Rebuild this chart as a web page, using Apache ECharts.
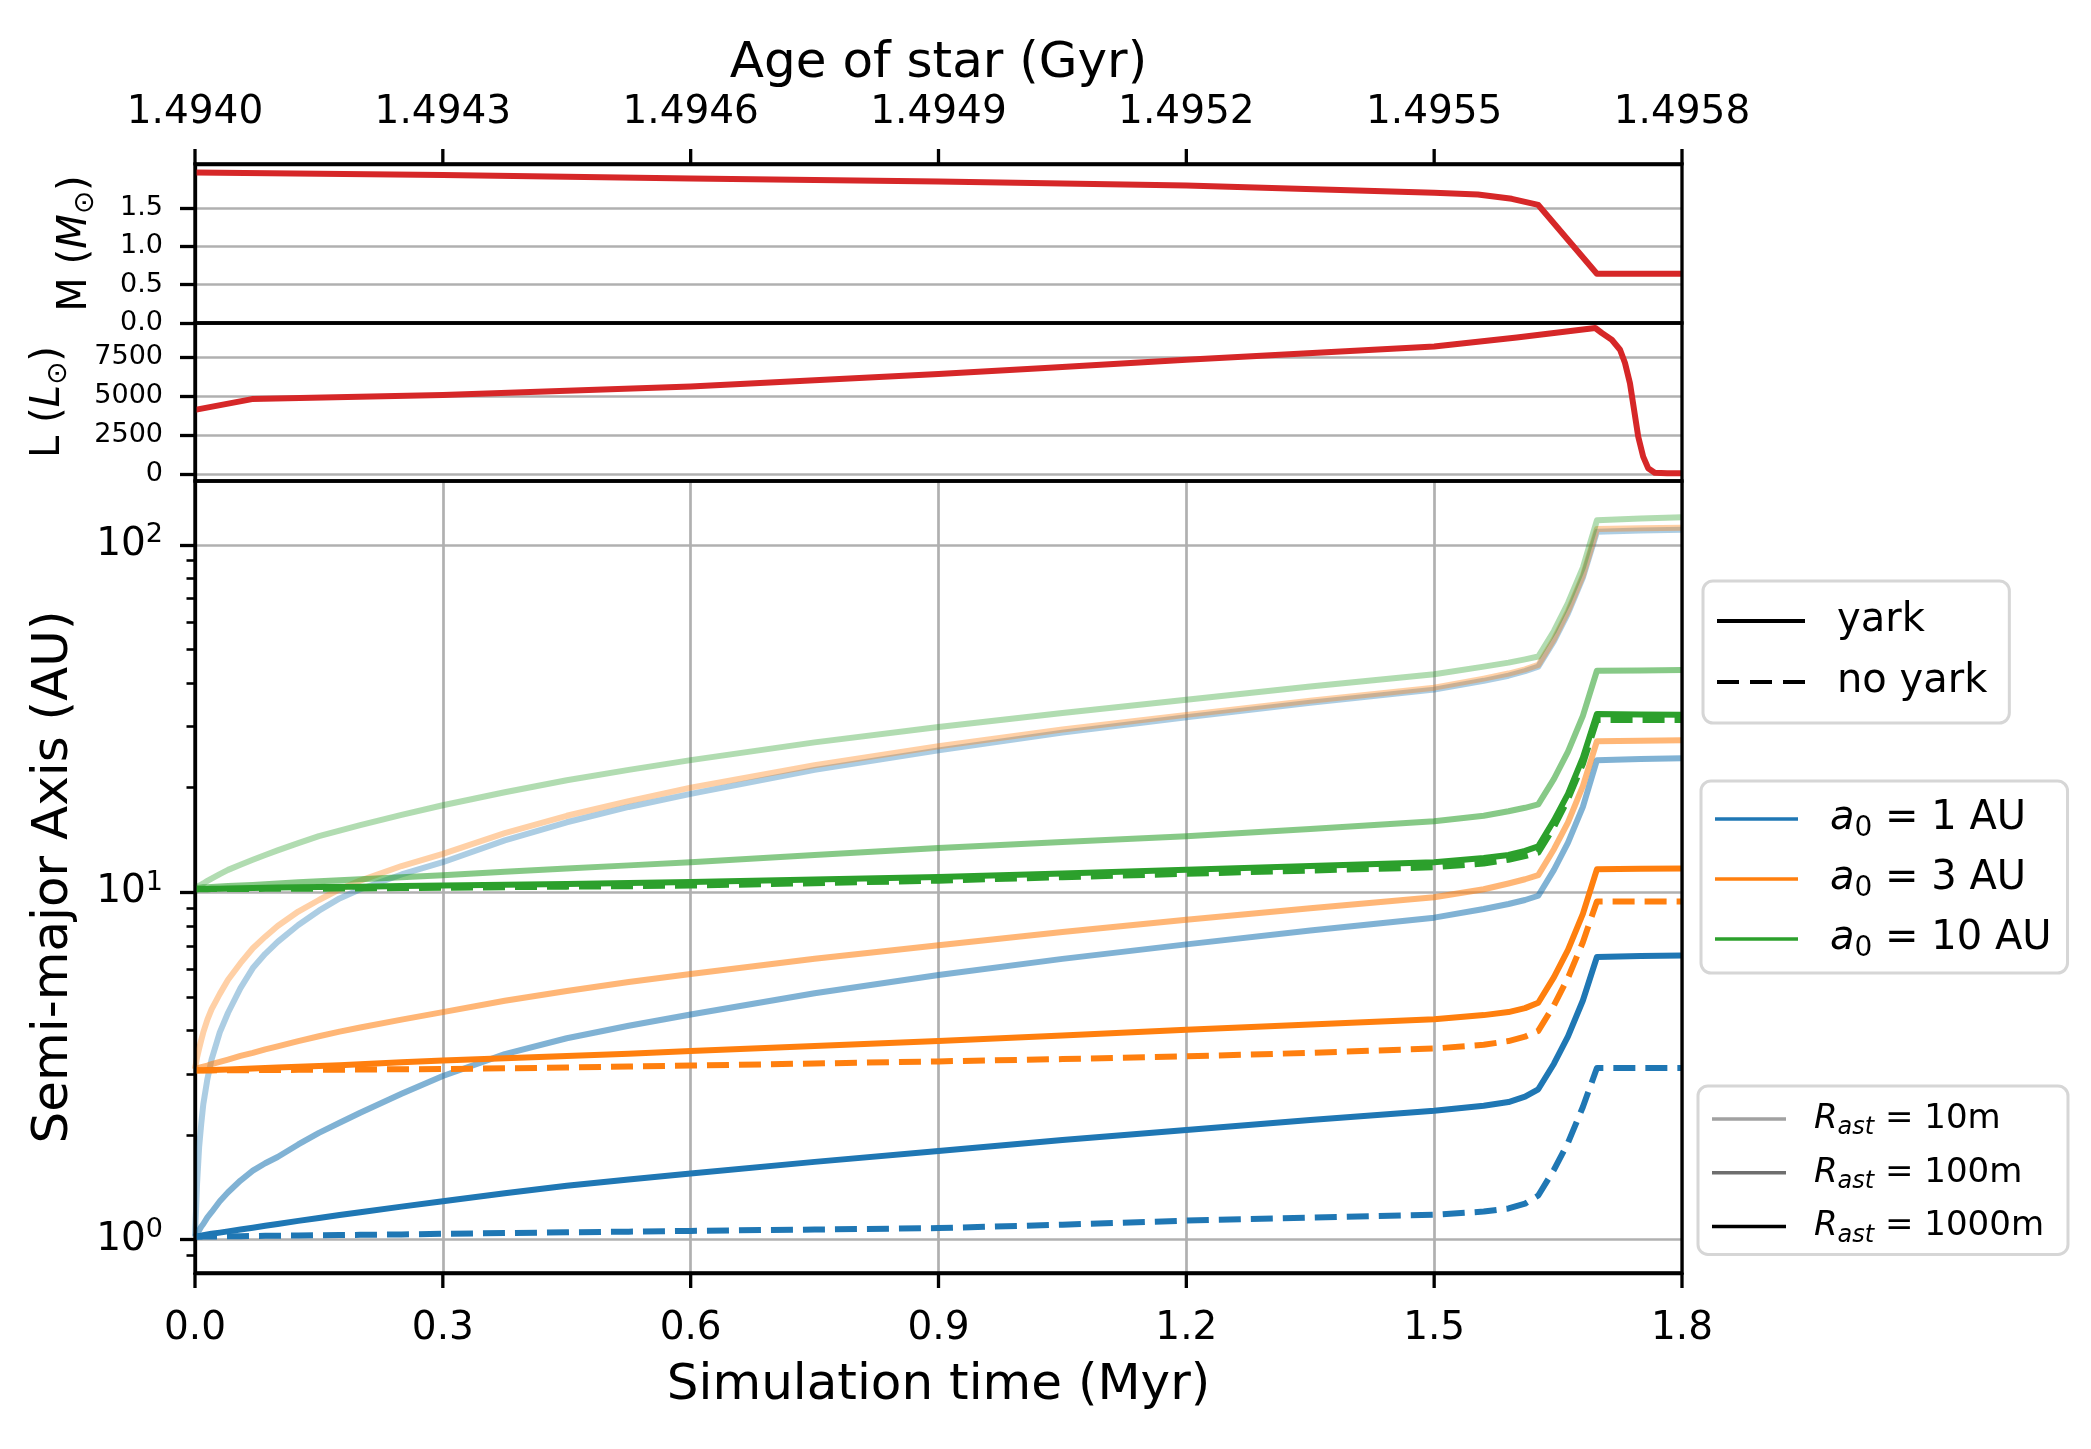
<!DOCTYPE html>
<html>
<head>
<meta charset="utf-8" />
<title>Semi-major axis evolution</title>
<script src="https://cdn.jsdelivr.net/npm/echarts@6.0.0/dist/echarts.min.js"></script>
<style>
  html, body { margin: 0; padding: 0; background: #fff; }
  #main { width: 2091px; height: 1449px; }
</style>
</head>
<body>
<div id="main"></div>
<script>
var FONT = 'DejaVu Sans';

// tick positions and labels
var TIME_TICKS = [0, 0.3, 0.6, 0.9, 1.2, 1.5, 1.8];
var TIME_LABELS = ['0.0', '0.3', '0.6', '0.9', '1.2', '1.5', '1.8'];
var AGE_LABELS = ['1.4940', '1.4943', '1.4946', '1.4949', '1.4952', '1.4955', '1.4958'];
var MASS_TICKS = [0, 0.5, 1.0, 1.5];
var LUM_TICKS = [0, 2500, 5000, 7500];
var A_TICKS = [1, 10, 100];
var A_MINOR = [0.9, 2, 3, 4, 5, 6, 7, 8, 9, 20, 30, 40, 50, 60, 70, 80, 90];

// star mass (Msun)
var M_T   = [0, 0.3, 0.6, 0.9, 1.2, 1.5, 1.553, 1.594, 1.626, 1.697, 1.8];
var M_VAL = [1.964, 1.932, 1.885, 1.847, 1.795, 1.70, 1.675, 1.62, 1.54, 0.643, 0.643];

// star luminosity (Lsun)
var L_T   = [0, 0.069, 0.3, 0.6, 0.9, 1.029, 1.2, 1.5, 1.6, 1.695, 1.703, 1.715, 1.725, 1.731, 1.737, 1.742, 1.747, 1.753, 1.759, 1.767, 1.782, 1.8];
var L_VAL = [4120, 4810, 5080, 5620, 6420, 6800, 7330, 8180, 8750, 9360, 9040, 8610, 7970, 7120, 5830, 4120, 2410, 1130, 390, 100, 65, 60];

// semi-major axis (AU) at simulation times T (Myr)
var T = [0, 0.0025, 0.005, 0.0075, 0.01, 0.015, 0.02, 0.03, 0.04, 0.055, 0.07, 0.085, 0.1, 0.125, 0.15, 0.175, 0.2, 0.25, 0.3,
         0.375, 0.45, 0.525, 0.6, 0.75, 0.9, 1.05, 1.2, 1.35, 1.5, 1.56, 1.59, 1.61, 1.626, 1.645, 1.662, 1.68, 1.697, 1.75, 1.8];

var A1_R10    = [1.02, 1.45, 1.85, 2.15, 2.45, 2.9, 3.3, 3.95, 4.5, 5.3, 6.05, 6.65, 7.2, 8.05, 8.85, 9.6, 10.2, 11.25, 12.2,
                 14.1, 15.9, 17.6, 19.2, 22.5, 25.6, 28.8, 31.9, 35.1, 38.3, 40.6, 42.0, 43.3, 44.6, 52.8, 63.5, 80.5, 109, 110, 110.5];
var A1_R100   = [1.02, 1.04, 1.065, 1.09, 1.11, 1.16, 1.2, 1.29, 1.37, 1.48, 1.58, 1.66, 1.73, 1.88, 2.03, 2.17, 2.32, 2.63, 2.96,
                 3.42, 3.8, 4.13, 4.45, 5.12, 5.78, 6.43, 7.08, 7.76, 8.45, 8.95, 9.25, 9.5, 9.77, 11.6, 13.9, 17.6, 24.0, 24.2, 24.3];
var A1_R1000  = [1.02, 1.022, 1.025, 1.027, 1.03, 1.035, 1.04, 1.048, 1.057, 1.07, 1.083, 1.097, 1.11, 1.133, 1.155, 1.178, 1.2, 1.245, 1.29,
                 1.36, 1.43, 1.49, 1.55, 1.675, 1.80, 1.935, 2.07, 2.21, 2.35, 2.43, 2.49, 2.58, 2.71, 3.21, 3.85, 4.88, 6.51, 6.55, 6.58];
var A1_NOYARK = [1.02, 1.02, 1.02, 1.02, 1.021, 1.021, 1.022, 1.022, 1.023, 1.024, 1.025, 1.026, 1.027, 1.028, 1.03, 1.031, 1.033, 1.036, 1.04,
                 1.045, 1.05, 1.055, 1.06, 1.07, 1.08, 1.105, 1.135, 1.157, 1.18, 1.205, 1.23, 1.27, 1.34, 1.59, 1.9, 2.41, 3.12, 3.12, 3.12];

var A3_R10    = [3.1, 3.35, 3.55, 3.75, 3.95, 4.3, 4.6, 5.1, 5.6, 6.25, 6.9, 7.45, 8.0, 8.8, 9.5, 10.2, 10.8, 11.9, 12.9,
                 14.8, 16.6, 18.3, 20.0, 23.2, 26.3, 29.4, 32.4, 35.6, 38.8, 41.2, 42.6, 43.8, 45.1, 53.5, 64.5, 81.5, 111, 111.5, 112];
var A3_R100   = [3.1, 3.11, 3.125, 3.14, 3.15, 3.17, 3.2, 3.25, 3.3, 3.38, 3.45, 3.53, 3.6, 3.73, 3.85, 3.97, 4.08, 4.3, 4.52,
                 4.87, 5.2, 5.52, 5.82, 6.44, 7.04, 7.68, 8.33, 9.0, 9.67, 10.2, 10.6, 10.9, 11.2, 13.3, 15.9, 20.2, 27.2, 27.3, 27.4];
var A3_R1000  = [3.07, 3.072, 3.073, 3.074, 3.075, 3.078, 3.08, 3.085, 3.09, 3.1, 3.11, 3.12, 3.13, 3.145, 3.16, 3.18, 3.2, 3.24, 3.28,
                 3.33, 3.38, 3.43, 3.49, 3.61, 3.73, 3.87, 4.02, 4.16, 4.31, 4.43, 4.52, 4.64, 4.81, 5.7, 6.83, 8.66, 11.64, 11.68, 11.7];
var A3_NOYARK = [3.07, 3.07, 3.07, 3.07, 3.07, 3.071, 3.071, 3.072, 3.073, 3.075, 3.076, 3.078, 3.079, 3.082, 3.084, 3.086, 3.089, 3.094, 3.1,
                 3.115, 3.13, 3.15, 3.17, 3.215, 3.26, 3.31, 3.37, 3.45, 3.55, 3.64, 3.73, 3.84, 3.99, 4.73, 5.67, 7.18, 9.41, 9.41, 9.41];

var A10_R10    = [10.3, 10.38, 10.45, 10.52, 10.6, 10.78, 10.95, 11.28, 11.6, 12.0, 12.4, 12.8, 13.2, 13.85, 14.5, 15.05, 15.6, 16.7, 17.8,
                  19.4, 21.0, 22.5, 24.0, 27.0, 29.9, 32.8, 35.8, 39.1, 42.4, 44.6, 45.8, 46.8, 47.7, 56.5, 68, 86, 117.6, 119, 120];
var A10_R100   = [10.3, 10.3, 10.31, 10.32, 10.33, 10.34, 10.36, 10.39, 10.42, 10.46, 10.5, 10.55, 10.6, 10.68, 10.75, 10.83, 10.9, 11.05, 11.2,
                  11.45, 11.7, 11.95, 12.2, 12.8, 13.4, 13.95, 14.5, 15.2, 16.0, 16.6, 17.1, 17.5, 17.9, 21.2, 25.4, 32.2, 43.4, 43.5, 43.6];
var A10_R1000  = [10.2, 10.2, 10.21, 10.21, 10.22, 10.22, 10.23, 10.24, 10.26, 10.27, 10.29, 10.3, 10.32, 10.34, 10.36, 10.37, 10.38, 10.42, 10.45,
                  10.51, 10.57, 10.63, 10.7, 10.88, 11.07, 11.33, 11.6, 11.9, 12.2, 12.55, 12.8, 13.15, 13.55, 16.1, 19.2, 24.4, 32.6, 32.5, 32.4];
var A10_NOYARK = [10.2, 10.2, 10.2, 10.2, 10.2, 10.2, 10.21, 10.21, 10.21, 10.22, 10.22, 10.23, 10.23, 10.24, 10.24, 10.25, 10.26, 10.28, 10.3,
                  10.34, 10.38, 10.41, 10.45, 10.62, 10.8, 11.05, 11.3, 11.55, 11.8, 12.1, 12.4, 12.7, 13.0, 15.4, 18.5, 23.4, 31.3, 31.3, 31.3];

var BLUE = '#1f77b4', ORANGE = '#ff7f0e', GREEN = '#2ca02c', RED = '#d62728';
var GRID_COLOR = '#b0b0b0';
var LW = 6;

// panel layout (px)
var PLOT_LEFT = 195, PLOT_W = 1487;
var M_TOP = 164, L_TOP = 323, A_TOP = 481, A_BOTTOM = 1273;
var TICK_LEN = 15;

function zip(xs, ys) {
  return xs.map(function (x, i) { return [x, ys[i]]; });
}
function logPts(vals) {
  return T.map(function (t, i) { return [t, Math.log10(vals[i])]; });
}
function timeIndex(v) { return Math.round(v / 0.3); }
// vertical segments spanning a tick strip, one per tick value, broken by nulls
function tickSegments(ticks) {
  var out = [];
  ticks.forEach(function (v) { out.push([v, 0], [v, 1], [v, null]); });
  return out;
}

var curves = [
  { vals: A1_R10, color: BLUE, alpha: 0.37 },
  { vals: A1_R100, color: BLUE, alpha: 0.57 },
  { vals: A1_R1000, color: BLUE, alpha: 1 },
  { vals: A1_NOYARK, color: BLUE, alpha: 1, dash: true },
  { vals: A3_R10, color: ORANGE, alpha: 0.37 },
  { vals: A3_R100, color: ORANGE, alpha: 0.57 },
  { vals: A3_R1000, color: ORANGE, alpha: 1 },
  { vals: A3_NOYARK, color: ORANGE, alpha: 1, dash: true },
  { vals: A10_R10, color: GREEN, alpha: 0.37 },
  { vals: A10_R100, color: GREEN, alpha: 0.57 },
  { vals: A10_R1000, color: GREEN, alpha: 1 },
  { vals: A10_NOYARK, color: GREEN, alpha: 1, dash: true }
];

var series = [];
series.push({
  type: 'line', xAxisIndex: 0, yAxisIndex: 0, data: zip(M_T, M_VAL),
  symbol: 'none', silent: true,
  lineStyle: { color: RED, width: LW, join: 'round' }
});
series.push({
  type: 'line', xAxisIndex: 1, yAxisIndex: 1, data: zip(L_T, L_VAL),
  symbol: 'none', silent: true,
  lineStyle: { color: RED, width: LW, join: 'round' }
});
curves.forEach(function (c, k) {
  series.push({
    name: 'curve' + k,
    type: 'line', xAxisIndex: 2, yAxisIndex: 2, data: logPts(c.vals),
    symbol: 'none', silent: true,
    lineStyle: { color: c.color, opacity: c.alpha, width: LW, join: 'round',
                 type: c.dash ? [22, 10] : 'solid' }
  });
});
// x tick marks drawn in the two strips (above the mass panel, below the main panel)
[3, 4].forEach(function (idx) {
  series.push({
    type: 'line', xAxisIndex: idx, yAxisIndex: idx + 1, data: tickSegments(TIME_TICKS),
    symbol: 'none', silent: true, clip: false, connectNulls: false, z: 20,
    lineStyle: { color: '#000', width: 3.3, cap: 'butt' }
  });
});

// legend-only entries
var LEGEND_COLORS = {
  'yark': '#000', 'no yark': '#000',
  'a1': BLUE, 'a3': ORANGE, 'a10': GREEN,
  'r10': '#a1a1a1', 'r100': '#6e6e6e', 'r1000': '#000'
};
Object.keys(LEGEND_COLORS).forEach(function (n) {
  series.push({
    name: n, type: 'line', xAxisIndex: 2, yAxisIndex: 2, data: [],
    symbol: 'none', itemStyle: { color: LEGEND_COLORS[n] },
    lineStyle: { color: LEGEND_COLORS[n] }
  });
});

var LEGEND_TEXT = {
  'yark': '{g| }{n|yark}',
  'no yark': '{g| }{n|no yark}',
  'a1': '{g| }{i|a}{s|0}{n| = 1 AU}',
  'a3': '{g| }{i|a}{s|0}{n| = 3 AU}',
  'a10': '{g| }{i|a}{s|0}{n| = 10 AU}',
  'r10': '{g| }{i|R}{s|ast}{n| = 10m}',
  'r100': '{g| }{i|R}{s|ast}{n| = 100m}',
  'r1000': '{g| }{i|R}{s|ast}{n| = 1000m}'
};
function legendFmt(name) { return LEGEND_TEXT[name]; }

function richBig(gap) {
  return {
    g: { width: gap, fontSize: 40, lineHeight: 48, fontFamily: FONT },
    n: { fontSize: 40, lineHeight: 48, fontFamily: FONT, color: '#000' },
    i: { fontSize: 40, lineHeight: 48, fontFamily: FONT, fontStyle: 'italic', color: '#000' },
    s: { fontSize: 28, lineHeight: 26, fontFamily: FONT, verticalAlign: 'bottom', color: '#000' }
  };
}
var RICH_SMALL = {
  g: { width: 23, fontSize: 34, lineHeight: 42, fontFamily: FONT },
  n: { fontSize: 34, lineHeight: 42, fontFamily: FONT, color: '#000' },
  i: { fontSize: 34, lineHeight: 42, fontFamily: FONT, fontStyle: 'italic', color: '#000' },
  s: { fontSize: 24, lineHeight: 24, fontFamily: FONT, fontStyle: 'italic', verticalAlign: 'bottom', color: '#000' }
};

var legendBase = {
  orient: 'vertical', selectedMode: false, backgroundColor: '#fff',
  borderColor: '#d6d6d6', borderWidth: 3, borderRadius: 10,
  itemStyle: { borderWidth: 0 }, formatter: legendFmt
};

var NAME_RICH = {
  n: { fontSize: 40, lineHeight: 48, fontFamily: FONT, color: '#000' },
  i: { fontSize: 40, lineHeight: 48, fontFamily: FONT, fontStyle: 'italic', color: '#000' },
  s: { fontSize: 28, lineHeight: 26, fontFamily: FONT, verticalAlign: 'bottom', color: '#000' }
};

var tickStyle = { color: '#000', width: 3.3 };
var labelBase = { fontFamily: FONT, color: '#000' };
function spine() { return { show: true, onZero: false, lineStyle: { color: '#000', width: 3.3 } }; }
var gridBase = { left: PLOT_LEFT, width: PLOT_W, show: true, z: 10, backgroundColor: 'transparent',
                 borderColor: '#000', borderWidth: 3.3, outerBoundsMode: 'none', containLabel: false };
var stripBase = { left: PLOT_LEFT, width: PLOT_W, height: TICK_LEN, show: false, outerBoundsMode: 'none', containLabel: false };

function stripX(gridIndex) {
  return { gridIndex: gridIndex, type: 'value', min: 0, max: 1.8, show: false,
           axisLine: { show: false, onZero: false }, splitLine: { show: false } };
}
function stripY(gridIndex) {
  return { gridIndex: gridIndex, type: 'value', min: 0, max: 1, show: false,
           axisLine: { show: false, onZero: false }, splitLine: { show: false } };
}

var option = {
  animation: false,
  backgroundColor: '#fff',
  grid: [
    Object.assign({ top: M_TOP, height: L_TOP - M_TOP }, gridBase),
    Object.assign({ top: L_TOP, height: A_TOP - L_TOP }, gridBase),
    Object.assign({ top: A_TOP, height: A_BOTTOM - A_TOP }, gridBase),
    Object.assign({ top: M_TOP - TICK_LEN }, stripBase),
    Object.assign({ top: A_BOTTOM }, stripBase)
  ],
  xAxis: [
    {
      gridIndex: 0, type: 'value', position: 'top', min: 0, max: 1.8, interval: 0.3,
      name: 'Age of star (Gyr)', nameLocation: 'middle', nameGap: 75,
      nameTextStyle: { fontFamily: FONT, fontSize: 50, color: '#000' },
      axisLine: spine(),
      axisTick: { show: false },
      axisLabel: Object.assign({ margin: 32, fontSize: 39, showMinLabel: true, showMaxLabel: true,
        formatter: function (v) { return AGE_LABELS[timeIndex(v)]; } }, labelBase),
      splitLine: { show: false }
    },
    { gridIndex: 1, type: 'value', min: 0, max: 1.8, show: false, axisLine: { show: false, onZero: false } },
    {
      gridIndex: 2, type: 'value', position: 'bottom', min: 0, max: 1.8, interval: 0.3,
      name: 'Simulation time (Myr)', nameLocation: 'middle', nameGap: 88,
      nameTextStyle: { fontFamily: FONT, fontSize: 50, color: '#000' },
      axisLine: spine(),
      axisTick: { show: false },
      axisLabel: Object.assign({ margin: 36, fontSize: 39, showMinLabel: true, showMaxLabel: true,
        formatter: function (v) { return TIME_LABELS[timeIndex(v)]; } }, labelBase),
      splitLine: { show: true, lineStyle: { color: GRID_COLOR, width: 2.7 } }
    },
    stripX(3),
    stripX(4)
  ],
  yAxis: [
    {
      gridIndex: 0, type: 'value', position: 'left', min: 0, max: 2.074,
      name: '{n|M (}{i|M}{s|\u2299}{n|)}', nameLocation: 'middle', nameRotate: 90, nameGap: 95,
      nameTextStyle: { rich: NAME_RICH },
      axisLine: spine(),
      axisTick: { show: true, length: TICK_LEN, lineStyle: tickStyle, customValues: MASS_TICKS },
      axisLabel: Object.assign({ margin: 32, fontSize: 27, customValues: MASS_TICKS,
        formatter: function (v) { return v.toFixed(1); } }, labelBase),
      splitLine: { show: true, lineStyle: { color: GRID_COLOR, width: 2.7 } }
    },
    {
      gridIndex: 1, type: 'value', position: 'left', min: -430, max: 9680,
      name: '{n|L (}{i|L}{s|\u2299}{n|)}', nameLocation: 'middle', nameRotate: 90, nameGap: 122,
      nameTextStyle: { rich: NAME_RICH },
      axisLine: spine(),
      axisTick: { show: true, length: TICK_LEN, lineStyle: tickStyle, customValues: LUM_TICKS },
      axisLabel: Object.assign({ margin: 32, fontSize: 27, customValues: LUM_TICKS,
        formatter: function (v) { return String(Math.round(v)); } }, labelBase),
      splitLine: { show: true, lineStyle: { color: GRID_COLOR, width: 2.7 } }
    },
    {
      gridIndex: 2, type: 'value', position: 'left', min: -0.0958, max: 2.1836,
      name: 'Semi-major Axis (AU)', nameLocation: 'middle', nameRotate: 90, nameGap: 116,
      nameTextStyle: { fontFamily: FONT, fontSize: 50, color: '#000' },
      axisLine: spine(),
      axisTick: { show: true, length: TICK_LEN, lineStyle: tickStyle, customValues: A_TICKS.map(Math.log10) },
      axisLabel: {
        margin: 32, customValues: A_TICKS.map(Math.log10),
        formatter: function (v) { return '{b|10}{s|' + Math.round(v) + '}'; },
        rich: {
          b: { fontFamily: FONT, fontSize: 39, lineHeight: 46, color: '#000' },
          s: { fontFamily: FONT, fontSize: 27, lineHeight: 25, verticalAlign: 'top', color: '#000' }
        }
      },
      splitLine: { show: true, lineStyle: { color: GRID_COLOR, width: 2.7 } }
    },
    {
      gridIndex: 2, type: 'value', position: 'left', offset: 0, min: -0.0958, max: 2.1836,
      axisLine: { show: false, onZero: false },
      axisTick: { show: true, length: 8.5, lineStyle: { color: '#000', width: 2.6 }, customValues: A_MINOR.map(Math.log10) },
      axisLabel: { show: false },
      splitLine: { show: false }
    },
    stripY(3),
    stripY(4)
  ],
  legend: [
    Object.assign({
      data: [
        { name: 'yark', icon: 'path://M0,0H88V4H0Z' },
        { name: 'no yark', icon: 'path://M0,0H22V4H0Z M33,0H55V4H33Z M66,0H88V4H66Z' }
      ],
      left: 1703, top: 581, itemWidth: 88, itemHeight: 4, itemGap: 21,
      padding: [20, 22, 21, 14], textStyle: { rich: richBig(27) }
    }, legendBase),
    Object.assign({
      data: ['a1', 'a3', 'a10'].map(function (n) { return { name: n, icon: 'path://M0,0H83V3.5H0Z' }; }),
      left: 1701, top: 781, itemWidth: 83, itemHeight: 3.5, itemGap: 16,
      padding: [18, 16, 10, 14], textStyle: { rich: richBig(27) }
    }, legendBase),
    Object.assign({
      data: ['r10', 'r100', 'r1000'].map(function (n) { return { name: n, icon: 'path://M0,0H74V3.5H0Z' }; }),
      left: 1698, top: 1086, itemWidth: 74, itemHeight: 3.5, itemGap: 15.7,
      padding: [16, 24, 7, 14], textStyle: { rich: RICH_SMALL }
    }, legendBase)
  ],
  series: series
};

var chart = echarts.init(document.getElementById('main'));
chart.setOption(option);
</script>
</body>
</html>
